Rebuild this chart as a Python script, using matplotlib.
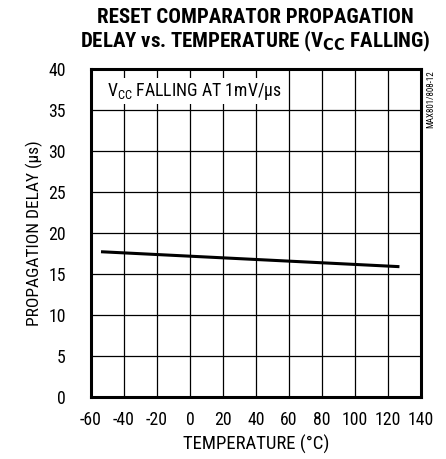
import matplotlib
matplotlib.use("Agg")
import matplotlib.pyplot as plt
from matplotlib import font_manager

# data
temperature = [-53, 126]
delay_us = [17.7, 15.9]

x_ticks = [-60, -40, -20, 0, 20, 40, 60, 80, 100, 120, 140]
y_ticks = [0, 5, 10, 15, 20, 25, 30, 35, 40]

# pick a narrow sans if one is around
candidates = ["Roboto Condensed", "Archivo Narrow", "PT Sans Narrow", "Liberation Sans Narrow",
              "Fira Sans Condensed", "IBM Plex Sans Condensed"]
names = {f.name for f in font_manager.fontManager.ttflist}
found = [c for c in candidates if c in names]
narrow = found[0] if found else "DejaVu Sans"
plt.rcParams["font.family"] = [narrow, "DejaVu Sans"]

fig = plt.figure(figsize=(4.46, 4.59), dpi=100)
ax = fig.add_axes([0.204, 0.135, 0.740, 0.715])

ax.plot(temperature, delay_us, color="black", linewidth=2.2)

ax.set_xlim(-60, 140)
ax.set_ylim(0, 40)
ax.set_xticks(x_ticks)
ax.set_yticks(y_ticks)
ax.set_xticklabels([str(t) for t in x_ticks], fontsize=12.8)
ax.set_yticklabels([str(t) for t in y_ticks], fontsize=12.8)
ax.tick_params(axis="x", length=0, pad=10)
ax.tick_params(axis="y", length=0, pad=18)
ax.grid(True, color="black", linewidth=0.9)
for s in ax.spines.values():
    s.set_linewidth(2.2)

ax.set_xlabel("TEMPERATURE (°C)", fontsize=13.5, labelpad=4)
ax.set_ylabel("PROPAGATION DELAY (µs)", fontsize=12.5, labelpad=4)

ax.text(-50, 37.3, r"V$_{\mathregular{CC}}$ FALLING AT 1mV/µs", fontsize=12.8,
        va="center", ha="left",
        bbox=dict(facecolor="white", edgecolor="none", pad=1.5))

fig.text(0.572, 0.961, "RESET COMPARATOR PROPAGATION", fontsize=15,
         fontweight=900, ha="center", va="center")
fig.text(0.572, 0.909, r"DELAY vs. TEMPERATURE (V$_{\mathbf{CC}}$ FALLING)", fontsize=15,
         fontweight=900, ha="center", va="center")

fig.text(0.965, 0.848, "MAX801/808-12", fontsize=6.5, rotation=90,
         ha="center", va="top")

fig.savefig("out.png", dpi=100)
